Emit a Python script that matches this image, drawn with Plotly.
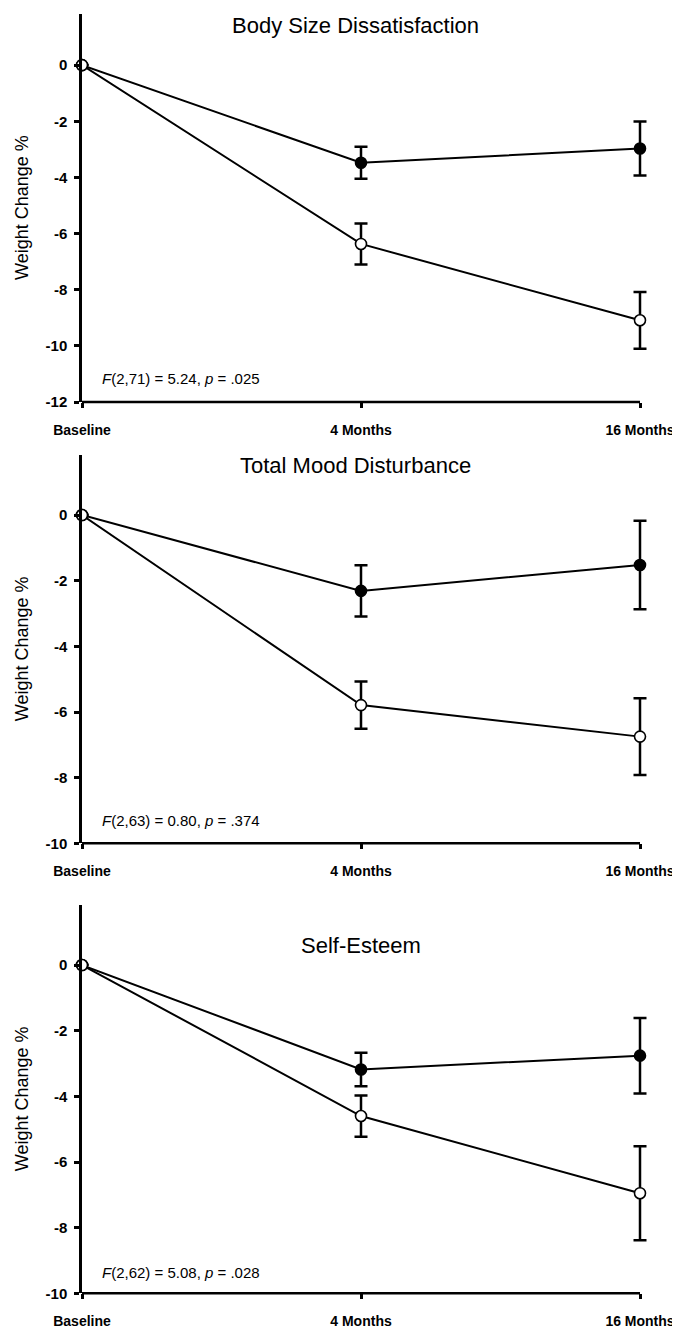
import plotly.graph_objects as go

categories = ["Baseline", "4 Months", "16 Months"]

titles = ["Body Size Dissatisfaction", "Total Mood Disturbance", "Self-Esteem"]
stats = [
    "<i>F</i>(2,71) = 5.24, <i>p</i> = .025",
    "<i>F</i>(2,63) = 0.80, <i>p</i> = .374",
    "<i>F</i>(2,62) = 5.08, <i>p</i> = .028",
]

bsd_filled = [0, -3.48, -2.97]
bsd_filled_err = [None, 0.57, 0.96]
bsd_open = [0, -6.37, -9.09]
bsd_open_err = [None, 0.73, 1.01]

tmd_filled = [0, -2.31, -1.52]
tmd_filled_err = [None, 0.78, 1.35]
tmd_open = [0, -5.79, -6.75]
tmd_open_err = [None, 0.72, 1.17]

se_filled = [0, -3.18, -2.76]
se_filled_err = [None, 0.51, 1.15]
se_open = [0, -4.60, -6.95]
se_open_err = [None, 0.63, 1.43]

y_min = [-12, -10, -10]
y_max = [1.82, 1.83, 1.83]
y_ticks = [[0, -2, -4, -6, -8, -10, -12], [0, -2, -4, -6, -8, -10], [0, -2, -4, -6, -8, -10]]

# page body has an 8px margin: figure is drawn at (8, 8)
OFF = 8
W, H = 680 - OFF, 1328 - OFF
FONT = "Liberation Sans, Arial, sans-serif"

# reference pixel layout (screen coords), converted by subtracting OFF
panels_px = [(14, 402), (455, 843.3), (905, 1293.3)]
title_px = [(355, 25), (355, 465), (361, 945)]
stat_y_px = [379, 820, 1272]
x_left, x_right = 82, 640
X_PAD = 0.06  # extra category room on the right so error caps are not clipped
x_right_ext = x_right + (x_right - x_left) / 2 * X_PAD


def px_x(v):
    return (v - OFF) / W


def px_y(v):
    return 1 - (v - OFF) / H


series = [
    (bsd_filled, bsd_filled_err, bsd_open, bsd_open_err),
    (tmd_filled, tmd_filled_err, tmd_open, tmd_open_err),
    (se_filled, se_filled_err, se_open, se_open_err),
]

fig = go.Figure()
annotations = []
shapes = []
layout_axes = {}

for i, (f, fe, o, oe) in enumerate(series):
    n = "" if i == 0 else str(i + 1)
    xa, ya = "x" + n, "y" + n
    for vals, errs, fill in ((f, fe, "black"), (o, oe, "white")):
        fig.add_trace(go.Scatter(
            x=categories, y=vals, xaxis=xa, yaxis=ya,
            mode="lines+markers",
            line=dict(color="black", width=2),
            marker=dict(symbol="circle", size=11, color=fill,
                        line=dict(color="black", width=1.6)),
            error_y=dict(type="data", array=errs, visible=True,
                         color="black", thickness=2.5, width=6.5),
            cliponaxis=False, showlegend=False,
        ))
    top, bot = panels_px[i]
    dom_y = [px_y(bot), px_y(top)]
    layout_axes["xaxis" + n] = dict(
        domain=[px_x(x_left), px_x(x_right_ext)], anchor=ya,
        type="category", categoryorder="array", categoryarray=categories,
        range=[0, 2 + X_PAD], showline=False,
        ticks="outside", ticklen=5, tickwidth=2.5, tickcolor="black",
        ticklabelstandoff=10,
        showgrid=False, zeroline=False, automargin=False,
        tickfont=dict(family=FONT, size=14, color="black", weight="bold"),
    )
    layout_axes["yaxis" + n] = dict(
        domain=dom_y, anchor=xa, range=[y_min[i], y_max[i]],
        tickvals=y_ticks[i], ticktext=[str(v) for v in y_ticks[i]],
        showline=True, linecolor="black", linewidth=2.5,
        ticks="outside", ticklen=5, tickwidth=2.5, tickcolor="black",
        ticklabelstandoff=4,
        showgrid=False, zeroline=False, automargin=False,
        tickfont=dict(family=FONT, size=15, color="black", weight="bold"),
    )
    # x axis baseline spanning only from first to last category
    shapes.append(dict(
        type="line", xref=xa, yref=ya + " domain",
        x0=0, x1=len(categories) - 1, y0=0, y1=0,
        line=dict(color="black", width=2.5), layer="above",
    ))
    annotations.append(dict(
        text=titles[i], xref="paper", yref="paper",
        x=px_x(title_px[i][0]), y=px_y(title_px[i][1]),
        xanchor="center", yanchor="middle", showarrow=False,
        font=dict(family=FONT, size=22, color="black"),
    ))
    annotations.append(dict(
        text=stats[i], xref="paper", yref="paper",
        x=px_x(100), y=px_y(stat_y_px[i]),
        xanchor="left", yanchor="middle", showarrow=False,
        font=dict(family=FONT, size=15, color="black"),
    ))
    annotations.append(dict(
        text="Weight Change %", xref="paper", yref="paper",
        x=px_x(22), y=px_y((top + bot) / 2), textangle=-90,
        xanchor="center", yanchor="middle", showarrow=False,
        font=dict(family=FONT, size=18, color="black"),
    ))

fig.update_layout(
    width=W, height=H,
    margin=dict(l=0, r=0, t=0, b=0),
    paper_bgcolor="white", plot_bgcolor="white",
    annotations=annotations,
    shapes=shapes,
    **layout_axes,
)

fig.write_html("out.html")
